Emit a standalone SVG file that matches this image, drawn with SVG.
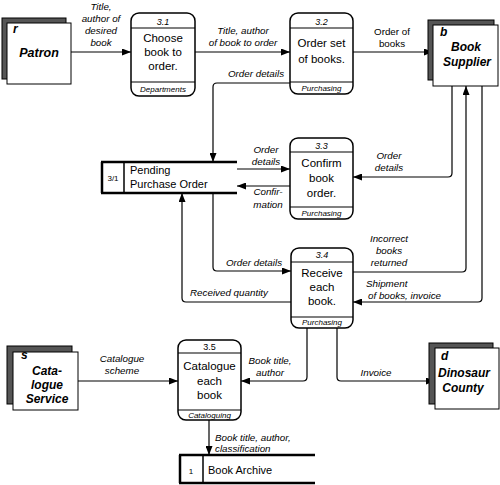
<svg xmlns="http://www.w3.org/2000/svg" width="500" height="485" viewBox="0 0 500 485">
<defs>
<marker id="ah" markerWidth="9" markerHeight="7" refX="9" refY="3.5" orient="auto" markerUnits="userSpaceOnUse">
<path d="M0,0 L9,3.5 L0,7 Z" fill="#000"/>
</marker>
<style>
text{font-family:"Liberation Sans",Arial,sans-serif;fill:#000}
.proc{fill:#fff;stroke:#000;stroke-width:1.5}
.div{stroke:#000;stroke-width:1.2}
.pt{font-size:11.5px;text-anchor:middle}
.pid{font-size:9px;font-style:italic;text-anchor:middle}
.pl{font-size:8px;font-style:italic;text-anchor:middle}
.shadow{fill:#555;stroke:#000;stroke-width:1}
.front{fill:#fff;stroke:#000;stroke-width:1}
.en{font-size:12px;font-weight:bold;font-style:italic;text-anchor:middle}
.eid{font-size:12px;font-weight:bold;font-style:italic}
.st{stroke:#000;stroke-width:2.5}
.stv{stroke:#000;stroke-width:1.5}
.conn path{fill:none;stroke:#000;stroke-width:1.2;marker-end:url(#ah)}
.lab{font-size:9.8px;font-style:italic;text-anchor:middle}
.labs{font-size:9.8px;font-style:italic}
.labu{font-size:9.8px;text-anchor:middle}
</style>
</defs>
<rect width="500" height="485" fill="#fff"/>

<g id="connectors" class="conn">
<path d="M71,52 H131"/>
<path d="M195,52 H290"/>
<path d="M353,52 H433"/>
<path d="M290,83 H217 Q213,83 213,87 V162"/>
<path d="M237,169 H290"/>
<path d="M290,186 H237"/>
<path d="M452,86 V173 Q452,177 448,177 H353"/>
<path d="M213,193 V267 Q213,271 217,271 H291"/>
<path d="M291,302 H186 Q182,302 182,298 V193"/>
<path d="M353,272 H462 Q466,272 466,268 V86"/>
<path d="M482,86 V298 Q482,302 478,302 H353"/>
<path d="M307,328 V377 Q307,381 303,381 H241"/>
<path d="M337,328 V377 Q337,381 341,381 H435"/>
<path d="M78,381 H178"/>
<path d="M209,420 V455"/>
</g>

<g id="connector-labels">
<text class="lab" x="101" y="10">Title,</text>
<text class="lab" x="101" y="22">author of</text>
<text class="lab" x="101" y="34">desired</text>
<text class="lab" x="101" y="46">book</text>
<text class="lab" x="243" y="34">Title, author</text>
<text class="lab" x="243" y="46">of book to order</text>
<text class="labu" x="392" y="35">Order of</text>
<text class="labu" x="392" y="47">books</text>
<text class="lab" x="256" y="77">Order details</text>
<text class="lab" x="266" y="153">Order</text>
<text class="lab" x="266" y="165">details</text>
<text class="lab" x="268" y="195">Confir-</text>
<text class="lab" x="268" y="208">mation</text>
<text class="lab" x="389" y="159">Order</text>
<text class="lab" x="389" y="171">details</text>
<text class="lab" x="254" y="266">Order details</text>
<text class="lab" x="229" y="296">Received quantity</text>
<text class="lab" x="389" y="242">Incorrect</text>
<text class="lab" x="389" y="254">books</text>
<text class="lab" x="389" y="266">returned</text>
<text class="labs" x="366" y="287">Shipment</text>
<text class="labs" x="368" y="299">of books, invoice</text>
<text class="lab" x="270" y="364">Book title,</text>
<text class="lab" x="270" y="376">author</text>
<text class="lab" x="376" y="376">Invoice</text>
<text class="lab" x="122" y="362">Catalogue</text>
<text class="lab" x="122" y="374">scheme</text>
<text class="labs" x="215" y="441">Book title, author,</text>
<text class="labs" x="215" y="452">classification</text>
</g>

<g id="patron">
<rect class="shadow" x="2" y="18" width="64" height="61"/>
<rect class="front" x="7" y="23" width="64" height="61"/>
<text class="eid" x="13" y="33">r</text>
<text class="en" x="39" y="57" style="font-size:12.5px">Patron</text>
</g>

<g id="book-supplier">
<rect class="shadow" x="428" y="20" width="66" height="60"/>
<rect class="front" x="433" y="25" width="65" height="61"/>
<text class="eid" x="440" y="36">b</text>
<text class="en" x="466" y="51">Book</text>
<text class="en" x="467" y="66">Supplier</text>
</g>

<g id="catalogue-service">
<rect class="shadow" x="7" y="346" width="65" height="58"/>
<rect class="front" x="13" y="352" width="65" height="58"/>
<text class="eid" x="21" y="359">s</text>
<text class="en" x="47" y="375">Cata-</text>
<text class="en" x="47" y="389">logue</text>
<text class="en" x="47" y="403">Service</text>
</g>

<g id="dinosaur-county">
<rect class="shadow" x="429" y="343" width="64" height="61"/>
<rect class="front" x="435" y="348" width="64" height="61"/>
<text class="eid" x="441" y="360">d</text>
<text class="en" x="464" y="377">Dinosaur</text>
<text class="en" x="463" y="392">County</text>
</g>

<g id="p3-1">
<rect class="proc" x="131" y="13" width="64" height="83" rx="8"/>
<line class="div" x1="131" y1="28" x2="195" y2="28"/>
<line class="div" x1="131" y1="82" x2="195" y2="82"/>
<text class="pid" x="163" y="25">3.1</text>
<text class="pt" x="163" y="42">Choose</text>
<text class="pt" x="163" y="56">book to</text>
<text class="pt" x="163" y="70">order.</text>
<text class="pl" x="163" y="92">Departments</text>
</g>

<g id="p3-2">
<rect class="proc" x="290" y="13" width="63" height="81" rx="8"/>
<line class="div" x1="290" y1="28" x2="353" y2="28"/>
<line class="div" x1="290" y1="82" x2="353" y2="82"/>
<text class="pid" x="321.5" y="25">3.2</text>
<text class="pt" x="321.5" y="47">Order set</text>
<text class="pt" x="321.5" y="63">of books.</text>
<text class="pl" x="321.5" y="91">Purchasing</text>
</g>

<g id="p3-3">
<rect class="proc" x="290" y="138" width="63" height="81" rx="8"/>
<line class="div" x1="290" y1="152" x2="353" y2="152"/>
<line class="div" x1="290" y1="207" x2="353" y2="207"/>
<text class="pid" x="321.5" y="149">3.3</text>
<text class="pt" x="321.5" y="167">Confirm</text>
<text class="pt" x="321.5" y="182">book</text>
<text class="pt" x="321.5" y="197">order.</text>
<text class="pl" x="321.5" y="216">Purchasing</text>
</g>

<g id="p3-4">
<rect class="proc" x="291" y="248" width="62" height="80" rx="8"/>
<line class="div" x1="291" y1="262" x2="353" y2="262"/>
<line class="div" x1="291" y1="317" x2="353" y2="317"/>
<text class="pid" x="322" y="258">3.4</text>
<text class="pt" x="322" y="277">Receive</text>
<text class="pt" x="322" y="291">each</text>
<text class="pt" x="322" y="305">book.</text>
<text class="pl" x="322" y="325">Purchasing</text>
</g>

<g id="p3-5">
<rect class="proc" x="178" y="340" width="63" height="80" rx="8"/>
<line class="div" x1="178" y1="353" x2="241" y2="353"/>
<line class="div" x1="178" y1="410" x2="241" y2="410"/>
<text class="pid" x="209.5" y="350" style="font-style:normal">3.5</text>
<text class="pt" x="209.5" y="370">Catalogue</text>
<text class="pt" x="209.5" y="385">each</text>
<text class="pt" x="209.5" y="399">book</text>
<text class="pl" x="209.5" y="418">Cataloguing</text>
</g>

<g id="pending-purchase-order">
<line class="st" x1="101" y1="162" x2="237" y2="162"/>
<line class="st" x1="101" y1="193" x2="237" y2="193"/>
<line class="st" x1="102" y1="162" x2="102" y2="193"/>
<line class="stv" x1="124" y1="162" x2="124" y2="193"/>
<text x="113" y="181" style="font-size:8px;text-anchor:middle">3/1</text>
<text x="130" y="174" style="font-size:11px">Pending</text>
<text x="130" y="188" style="font-size:11px">Purchase Order</text>
</g>

<g id="book-archive">
<line class="st" x1="179" y1="455" x2="315" y2="455"/>
<line class="st" x1="179" y1="483" x2="315" y2="483"/>
<line class="st" x1="180" y1="455" x2="180" y2="483"/>
<line class="stv" x1="203" y1="455" x2="203" y2="483"/>
<text x="191" y="474" style="font-size:8px;text-anchor:middle">1</text>
<text x="208" y="474" style="font-size:11px">Book Archive</text>
</g>
</svg>
